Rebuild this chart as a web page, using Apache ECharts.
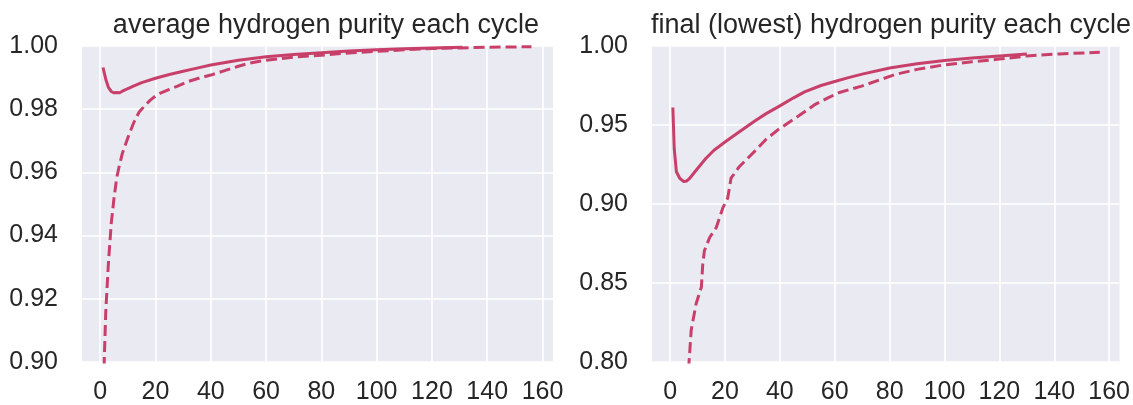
<!DOCTYPE html>
<html>
<head>
<meta charset="utf-8">
<script src="https://cdn.jsdelivr.net/npm/echarts@6/dist/echarts.min.js"></script>
<style>
  html, body { margin: 0; padding: 0; background: #ffffff; }
  #chart { width: 1133px; height: 405px; }
</style>
</head>
<body>
<div id="chart"></div>
<script>
// ---------- data ----------
const titles = ['average hydrogen purity each cycle', 'final (lowest) hydrogen purity each cycle'];
const xTicks = [0, 20, 40, 60, 80, 100, 120, 140, 160];
const yTicksLeft = [0.90, 0.92, 0.94, 0.96, 0.98, 1.00];
const yTicksRight = [0.80, 0.85, 0.90, 0.95, 1.00];

// average purity, solid line  [cycle, purity]
const avgSolid = [
  [1, 0.9932], [2, 0.9895], [3, 0.9868], [4, 0.9856], [5, 0.9852], [6, 0.9853], [7, 0.9852],
  [8, 0.9857], [10, 0.9865], [12, 0.9873], [15, 0.9884], [20, 0.9898], [25, 0.9910],
  [30, 0.9920], [35, 0.9930], [40, 0.9940], [50, 0.9955], [60, 0.9966], [70, 0.9973],
  [80, 0.9979], [90, 0.9984], [100, 0.9988], [110, 0.9991], [120, 0.9994], [131, 0.9996]
];
// average purity, dashed line
const avgDashed = [
  [1, 0.888], [2, 0.916], [3, 0.932], [4, 0.944], [5, 0.952], [6, 0.9585], [7, 0.9625],
  [8, 0.966], [10, 0.971], [12, 0.9755], [14, 0.979], [16, 0.981], [18, 0.9828], [20, 0.9842],
  [22, 0.9852], [25, 0.9863], [28, 0.9873], [32, 0.9888], [36, 0.9899], [40, 0.9908],
  [45, 0.9922], [50, 0.9936], [54, 0.9946], [60, 0.9955], [70, 0.9965], [80, 0.9971],
  [90, 0.9978], [100, 0.9983], [110, 0.9988], [120, 0.9992], [130, 0.9994], [140, 0.9996],
  [150, 0.9997], [156, 0.9998]
];
// final (lowest) purity, solid line
const finSolid = [
  [1, 0.9611], [1.5, 0.935], [2.3, 0.9204], [3.5, 0.9163], [5, 0.9142], [6, 0.9145],
  [7, 0.9160], [10, 0.9225], [13, 0.9288], [16, 0.9340], [20, 0.9392], [25, 0.9454],
  [31, 0.9527], [35, 0.9572], [40, 0.9621], [45, 0.9672], [49, 0.9710], [55, 0.9750],
  [60, 0.9775], [65, 0.9800], [70, 0.9822], [80, 0.9861], [90, 0.9888], [100, 0.9908],
  [110, 0.9924], [120, 0.9937], [130, 0.9950]
];
// final (lowest) purity, dashed line
const finDashed = [
  [5, 0.745], [6, 0.778], [6.9, 0.800], [7.7, 0.8204], [9.5, 0.837], [11.4, 0.8475],
  [11.9, 0.862], [12.5, 0.8704], [14.4, 0.8788], [16.8, 0.885], [19.2, 0.8975], [20.4, 0.9017],
  [21, 0.9038], [22.2, 0.9163], [25.2, 0.9236], [31.2, 0.9340], [35, 0.9410], [39.7, 0.9475],
  [46.9, 0.9558], [52.9, 0.9631], [57.7, 0.9673], [61.4, 0.9704], [69.8, 0.9746],
  [81.9, 0.9819], [90, 0.9852], [100, 0.9881], [110, 0.9900], [120, 0.9917], [130, 0.9937],
  [142, 0.9950], [156.6, 0.9960]
];

// ---------- styling ----------
const lineColor = '#c83f6a';
const textColor = '#262626';
const font = 'Liberation Sans, Arial, sans-serif';

function xAxisFor(gridIndex) {
  return {
    type: 'value', gridIndex: gridIndex, min: -6.6, max: 163.8,
    axisLine: { show: false }, axisTick: { show: false, customValues: xTicks },
    axisLabel: { customValues: xTicks, color: textColor, fontSize: 25, fontFamily: font, margin: 18 },
    splitLine: { show: true, lineStyle: { color: '#ffffff', width: 1.6 } }
  };
}
function yAxisFor(gridIndex, ticks, step) {
  return {
    type: 'value', gridIndex: gridIndex, min: ticks[0], max: ticks[ticks.length - 1], interval: step,
    axisLine: { show: false }, axisTick: { show: false },
    axisLabel: { color: textColor, fontSize: 25, fontFamily: font, margin: 24,
      formatter: v => v.toFixed(2) },
    splitLine: { show: true, lineStyle: { color: '#ffffff', width: 1.6 } }
  };
}
function lineSeries(name, data, idx, dashed) {
  return {
    name: name, type: 'line', xAxisIndex: idx, yAxisIndex: idx, data: data,
    showSymbol: false, symbol: 'none', smooth: false, clip: true, animation: false,
    lineStyle: { color: lineColor, width: 3, type: dashed ? [11, 5] : 'solid', cap: 'butt', join: 'round' }
  };
}

const chart = echarts.init(document.getElementById('chart'), null, { renderer: 'canvas' });
chart.setOption({
  animation: false,
  backgroundColor: '#ffffff',
  title: [
    { text: titles[0], left: 321, top: 7, textAlign: 'center',
      textStyle: { color: textColor, fontSize: 27, fontWeight: 'normal', fontFamily: font } },
    { text: titles[1], left: 886, top: 7, textAlign: 'center',
      textStyle: { color: textColor, fontSize: 27, fontWeight: 'normal', fontFamily: font } }
  ],
  grid: [
    { left: 82, top: 46, width: 471, height: 320, show: true, backgroundColor: '#eaeaf2', borderWidth: 0 },
    { left: 652, top: 46, width: 471, height: 320, show: true, backgroundColor: '#eaeaf2', borderWidth: 0 }
  ],
  xAxis: [xAxisFor(0), xAxisFor(1)],
  yAxis: [yAxisFor(0, yTicksLeft, 0.02), yAxisFor(1, yTicksRight, 0.05)],
  series: [
    lineSeries('average (solid)', avgSolid, 0, false),
    lineSeries('average (dashed)', avgDashed, 0, true),
    lineSeries('final (solid)', finSolid, 1, false),
    lineSeries('final (dashed)', finDashed, 1, true)
  ]
});
</script>
</body>
</html>
